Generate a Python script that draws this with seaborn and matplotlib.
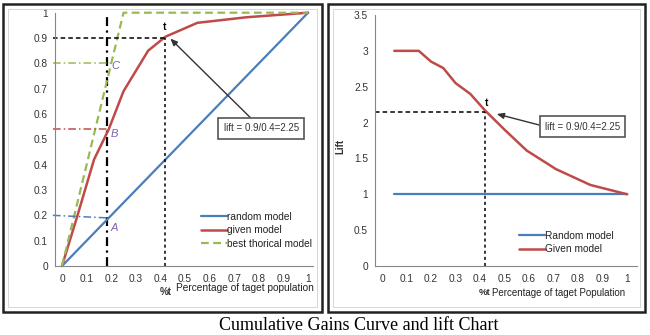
import matplotlib
matplotlib.use("Agg")
import matplotlib.pyplot as plt
import seaborn as sns
import pandas as pd
from matplotlib.patches import Rectangle
from matplotlib.ticker import MultipleLocator

# ---------------- data ----------------
gain_x = [0.0, 0.06, 0.13, 0.19, 0.25, 0.35, 0.42, 0.55, 0.75, 1.0]
gain_given = [0.0, 0.19, 0.42, 0.54, 0.69, 0.85, 0.905, 0.96, 0.982, 1.0]
random_x = [0.0, 1.0]
random_y = [0.0, 1.0]
best_x = [0.0, 0.25, 1.0]
best_y = [0.0, 1.0, 1.0]

lift_x = [0.05, 0.15, 0.20, 0.25, 0.30, 0.36, 0.42, 0.50, 0.59, 0.71, 0.85, 1.0]
lift_given = [3.0, 3.0, 2.85, 2.76, 2.55, 2.40, 2.17, 1.90, 1.61, 1.35, 1.13, 1.0]
lift_random_x = [0.05, 1.0]
lift_random_y = [1.0, 1.0]

gain_xticks = [0, 0.1, 0.2, 0.3, 0.4, 0.5, 0.6, 0.7, 0.8, 0.9, 1]
gain_xticklabels = ["0", "0.1", "0.2", "0.3", "0.4", "0.5", "0.6", "0.7", "0.8", "0.9", "1"]
gain_yticks = [0, 0.1, 0.2, 0.3, 0.4, 0.5, 0.6, 0.7, 0.8, 0.9, 1]
gain_yticklabels = ["0", "0.1", "0.2", "0.3", "0.4", "0.5", "0.6", "0.7", "0.8", "0.9", "1"]
lift_yticks = [0, 0.5, 1, 1.5, 2, 2.5, 3, 3.5]
lift_yticklabels = ["0", "0.5", "1", "1.5", "2", "2.5", "3", "3.5"]

cutoff_x = 0.183          # vertical dash-dot line
point_A = 0.195
point_B = 0.54
point_C = 0.80
t_x = 0.42
t_gain = 0.90
t_lift = 2.15

gain_labels = ["random model", "given model", "best thorical model"]
lift_labels = ["Random model", "Given model"]
annot_text = "lift = 0.9/0.4=2.25"
caption = "Cumulative Gains Curve and lift Chart"

# ---------------- style ----------------
sns.set_style("white")
plt.rcParams["font.family"] = ["Liberation Sans", "DejaVu Sans"]

BLUE = "#4a7ebb"
RED = "#be4b48"
GREEN = "#98b954"
PURPLE = "#7b5fb0"
AXC = "#868686"
TXT = "#333333"

fig = plt.figure(figsize=(6.5, 3.35), dpi=100)

# outer panel frames
for x0, x1 in [(3, 322), (328, 645)]:
    fig.patches.append(Rectangle((x0 / 650, 23 / 335), (x1 - x0) / 650, (331 - 23) / 335,
                                 transform=fig.transFigure, fill=False,
                                 edgecolor="#222222", linewidth=1.8, zorder=0))
    fig.patches.append(Rectangle(((x0 + 5) / 650, 28 / 335), (x1 - x0 - 10) / 650, (326 - 28) / 335,
                                 transform=fig.transFigure, fill=False,
                                 edgecolor="#d0d0d0", linewidth=0.6, zorder=0))

ax1 = fig.add_axes([55 / 650, 69 / 335, 258 / 650, (322.3 - 69) / 335])
ax2 = fig.add_axes([375 / 650, 69 / 335, 262 / 650, (320 - 69) / 335])


def style_axes(ax):
    for s in ["top", "right"]:
        ax.spines[s].set_visible(False)
    for s in ["left", "bottom"]:
        ax.spines[s].set_color(AXC)
        ax.spines[s].set_linewidth(0.8)
    ax.tick_params(axis="both", which="both", direction="out", color=AXC,
                   labelsize=7.3, labelcolor=TXT, width=0.8)
    ax.tick_params(axis="y", which="major", length=3, pad=2)
    ax.tick_params(axis="x", which="major", length=3, pad=2.5)
    ax.tick_params(axis="x", which="minor", length=3)
    ax.xaxis.set_minor_locator(MultipleLocator(0.05))
    ax.set_xlabel("")
    ax.set_ylabel("")


# ---------------- left: cumulative gains ----------------
df_rand = pd.DataFrame({"x": random_x, "y": random_y})
df_given = pd.DataFrame({"x": gain_x, "y": gain_given})
df_best = pd.DataFrame({"x": best_x, "y": best_y})

sns.lineplot(data=df_rand, x="x", y="y", ax=ax1, color=BLUE, lw=1.6, label=gain_labels[0])
sns.lineplot(data=df_given, x="x", y="y", ax=ax1, color=RED, lw=1.8, label=gain_labels[1])
sns.lineplot(data=df_best, x="x", y="y", ax=ax1, color=GREEN, lw=1.6, linestyle=(0, (3.5, 2)),
             label=gain_labels[2])
for ln in ax1.lines:
    ln.set_clip_on(False)

ax1.set_xlim(-0.0285, 1.02)
ax1.set_ylim(0, 1)
ax1.set_xticks(gain_xticks)
ax1.set_xticklabels(gain_xticklabels)
ax1.set_yticks(gain_yticks)
ax1.set_yticklabels(gain_yticklabels)
style_axes(ax1)

x_left = -0.037
ax1.plot([cutoff_x, cutoff_x], [0, 1.0], color="black", lw=1.6,
         linestyle=(0, (4, 2, 1, 2)), clip_on=False, zorder=1)
ax1.plot([x_left, cutoff_x + 0.01], [point_C, point_C], color=GREEN, lw=1.1,
         linestyle=(0, (5, 2, 1, 2)), clip_on=False)
ax1.plot([x_left, cutoff_x], [point_B, point_B], color=RED, lw=1.1,
         linestyle=(0, (5, 2, 1, 2)), clip_on=False)
ax1.plot([x_left, cutoff_x], [point_A + 0.005, point_A - 0.005], color=BLUE, lw=1.1,
         linestyle=(0, (5, 2, 1, 2)), clip_on=False)
ax1.plot([x_left, t_x], [t_gain, t_gain], color="black", lw=1.1,
         linestyle=(0, (3, 2)), clip_on=False)
ax1.plot([t_x, t_x], [0, t_gain], color="black", lw=1.1,
         linestyle=(0, (2, 2)), clip_on=False)

ax1.text(0.215, 0.79, "C", color=PURPLE, style="italic", fontsize=8, ha="center", va="center")
ax1.text(0.213, 0.52, "B", color=PURPLE, style="italic", fontsize=8, ha="center", va="center")
ax1.text(0.213, 0.15, "A", color=PURPLE, style="italic", fontsize=8, ha="center", va="center")
ax1.text(0.415, 0.945, "t", color="black", fontweight="bold", fontsize=7.5, ha="center", va="center")

ax1.annotate(annot_text, xy=(0.44, 0.898), xytext=(0.81, 0.543),
             fontsize=7, color=TXT, ha="center", va="center",
             bbox=dict(boxstyle="square,pad=0.55", fc="white", ec="#555555", lw=1.2),
             arrowprops=dict(arrowstyle="-|>,head_width=0.25,head_length=0.6",
                             color="#333333", lw=1.0, shrinkA=0, shrinkB=0))

ax1.text(0.42, -0.102, "%t", transform=ax1.get_xaxis_transform(), fontsize=7,
         fontweight="bold", color=TXT, ha="center", va="center")
ax1.text(0.465, -0.087, "Percentage of taget population", transform=ax1.get_xaxis_transform(),
         fontsize=7.3, color="#222222", ha="left", va="center", clip_on=False)

leg1 = ax1.legend(loc="upper left", bbox_to_anchor=(0.545, 0.235), frameon=False,
                  handlelength=2.6, handletextpad=0.0, fontsize=7.3, borderpad=0,
                  labelspacing=0.35)
for t in leg1.get_texts():
    t.set_color("#222222")

# ---------------- right: lift chart ----------------
df_lr = pd.DataFrame({"x": lift_random_x, "y": lift_random_y})
df_lg = pd.DataFrame({"x": lift_x, "y": lift_given})
sns.lineplot(data=df_lr, x="x", y="y", ax=ax2, color=BLUE, lw=1.6, label=lift_labels[0])
sns.lineplot(data=df_lg, x="x", y="y", ax=ax2, color=RED, lw=1.8, label=lift_labels[1])

ax2.set_xlim(-0.0286, 1.04)
ax2.set_ylim(0, 3.5)
ax2.set_xticks(gain_xticks)
ax2.set_xticklabels(gain_xticklabels)
ax2.set_yticks(lift_yticks)
ax2.set_yticklabels(lift_yticklabels)
style_axes(ax2)

ax2.plot([-0.028, t_x], [t_lift, t_lift], color="black", lw=1.1,
         linestyle=(0, (3, 2)), clip_on=False)
ax2.plot([t_x, t_x], [0, t_lift], color="black", lw=1.1,
         linestyle=(0, (2, 2)), clip_on=False)
ax2.text(0.425, 2.27, "t", color="black", fontweight="bold", fontsize=7.5, ha="center", va="center")

ax2.annotate(annot_text, xy=(0.468, 2.12), xytext=(0.818, 1.945),
             fontsize=7, color=TXT, ha="center", va="center",
             bbox=dict(boxstyle="square,pad=0.55", fc="white", ec="#555555", lw=1.2),
             arrowprops=dict(arrowstyle="-|>,head_width=0.25,head_length=0.6",
                             color="#333333", lw=1.0, shrinkA=0, shrinkB=0,
                             relpos=(0.0, 0.5)))

ax2.text(-0.134, 0.478, "Lift", transform=ax2.transAxes, rotation=90, fontsize=7,
         fontweight="bold", color=TXT, ha="center", va="center")
ax2.text(0.396, -0.107, "%t", transform=ax2.get_xaxis_transform(), fontsize=6.8,
         fontweight="bold", color=TXT, ha="left", va="center")
ax2.text(0.449, -0.107, "Percentage of taget Population", transform=ax2.get_xaxis_transform(),
         fontsize=7.0, color="#222222", ha="left", va="center", clip_on=False)

leg2 = ax2.legend(loc="upper left", bbox_to_anchor=(0.53, 0.16), frameon=False,
                  handlelength=2.6, handletextpad=0.0, fontsize=7.3, borderpad=0,
                  labelspacing=0.35)
for t in leg2.get_texts():
    t.set_color("#222222")

fig.text(359 / 650, 5 / 335, caption, family=["Liberation Serif", "DejaVu Serif"], fontsize=13,
         ha="center", va="baseline", color="black")

fig.savefig("out.png", dpi=100)
